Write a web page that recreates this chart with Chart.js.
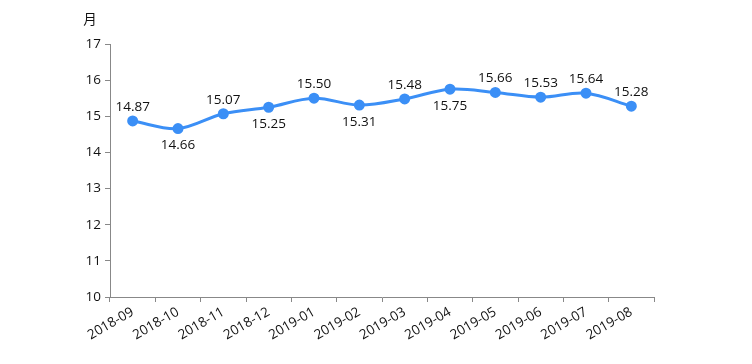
<!DOCTYPE html>
<html><head><meta charset="utf-8">
<script src="https://cdn.jsdelivr.net/npm/chart.js@4/dist/chart.umd.min.js"></script>
<style>html,body{margin:0;padding:0;background:#fff}#wrap{width:752px;height:364px}</style>
</head><body><div id="wrap"><canvas id="c"></canvas></div>
<script>
const categories = ['2018-09','2018-10','2018-11','2018-12','2019-01','2019-02','2019-03','2019-04','2019-05','2019-06','2019-07','2019-08'];
const values = [14.87,14.66,15.07,15.25,15.50,15.31,15.48,15.75,15.66,15.53,15.64,15.28];
const labelSide = ['up','down','up','down','up','down','up','down','up','up','up','up'];
const yTicks = [10,11,12,13,14,15,16,17];
const yUnit = '月';
const FONT = '"Open Sans","Noto Sans CJK SC",sans-serif';

const labelPlugin = {
  id: 'labels',
  afterDatasetsDraw(chart) {
    const ctx = chart.ctx;
    const meta = chart.getDatasetMeta(0);
    ctx.save();
    ctx.font = '13.5px ' + FONT;
    ctx.fillStyle = '#111';
    ctx.textAlign = 'center';
    ctx.textBaseline = 'middle';
    meta.data.forEach((pt, i) => {
      const dy = labelSide[i] === 'up' ? -14 : 17;
      ctx.fillText(values[i].toFixed(2), pt.x, pt.y + dy);
    });
    ctx.fillText(yUnit, 90, 20);
    ctx.restore();
  }
};

new Chart(document.getElementById('c'), {
  type: 'line',
  data: { labels: categories, datasets: [{
    data: values, borderColor: '#3b8ff6', backgroundColor: '#3b8ff6',
    borderWidth: 3, pointRadius: 4, pointHoverRadius: 4, tension: 0.35, fill: false
  }]},
  options: {
    responsive: true, maintainAspectRatio: false, animation: false,
    layout: { padding: { left: 0, right: 98, top: 44, bottom: 0 } },
    plugins: { legend: { display: false }, tooltip: { enabled: false } },
    scales: {
      x: {
        offset: true,
        grid: { display: true, drawOnChartArea: false, tickLength: 5, color: '#888', offset: true },
        border: { color: '#888', width: 1 },
        ticks: { color: '#111', font: { size: 13.5, family: FONT }, minRotation: 30, maxRotation: 30, padding: 2, autoSkip: false },
        afterFit: s => { s.height = 67; }
      },
      y: {
        min: 10, max: 17,
        afterBuildTicks: s => { s.ticks = yTicks.map(v => ({ value: v })); },
        grid: { display: true, drawOnChartArea: false, tickLength: 5, color: '#888' },
        border: { color: '#888', width: 1 },
        ticks: { color: '#111', font: { size: 13.5, family: FONT }, padding: 4 },
        afterFit: s => { s.width = 110; }
      }
    }
  },
  plugins: [labelPlugin]
});
</script></body></html>
